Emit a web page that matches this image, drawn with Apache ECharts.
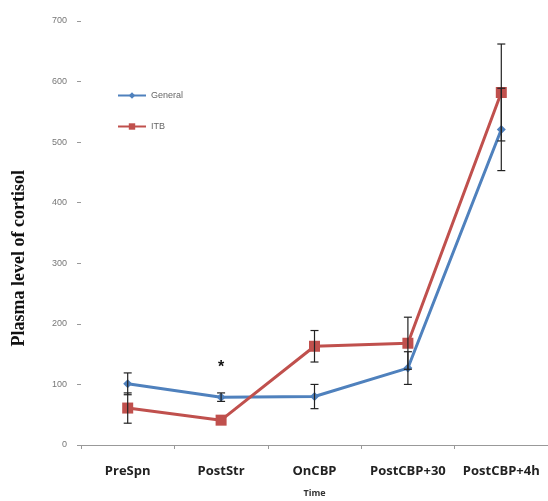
<!DOCTYPE html>
<html><head><meta charset="utf-8">
<script src="https://cdn.jsdelivr.net/npm/echarts@6/dist/echarts.min.js"></script>
<style>html,body{margin:0;padding:0;background:#fff}#c{width:548px;height:501px}</style>
</head><body><div id="c"></div>
<script>
const categories = ['PreSpn', 'PostStr', 'OnCBP', 'PostCBP+30', 'PostCBP+4h'];
const generalValues = [101, 79, 80, 127, 521];
const generalErrors = [18, 7, 20, 27, 68];
const itbValues = [61, 41, 163, 168, 582];
const itbErrors = [25, 0, 26, 43, 80];
const yTicks = { min: 0, max: 700, interval: 100 };
const annotation = { category: 'PostStr', value: 128, text: '*' };
const yTitle = 'Plasma level of cortisol';
const xTitle = 'Time';

function errData(vals, errs) {
  return vals.map((v, i) => [i, v - errs[i], v + errs[i]]);
}
function errRender(params, api) {
  const x = api.value(0), lo = api.value(1), hi = api.value(2);
  if (hi === lo) return null;
  const pLo = api.coord([x, lo]), pHi = api.coord([x, hi]);
  const w = 4;
  const st = { stroke: '#222', lineWidth: 1.2 };
  return { type: 'group', children: [
    { type: 'line', shape: { x1: pLo[0], y1: pLo[1], x2: pHi[0], y2: pHi[1] }, style: st },
    { type: 'line', shape: { x1: pLo[0] - w, y1: pLo[1], x2: pLo[0] + w, y2: pLo[1] }, style: st },
    { type: 'line', shape: { x1: pHi[0] - w, y1: pHi[1], x2: pHi[0] + w, y2: pHi[1] }, style: st }
  ]};
}

const chart = echarts.init(document.getElementById('c'));
chart.setOption({
  animation: false,
  backgroundColor: '#fff',
  grid: { left: 81, right: 0, top: 21, bottom: 56, containLabel: false, outerBoundsMode: 'none' },
  graphic: [{
    type: 'text', left: 10, top: 170,
    rotation: Math.PI / 2, originX: 0, originY: 0,
    style: { text: yTitle, fontSize: 18, fontWeight: 'bold', fill: '#111', fontFamily: 'Liberation Serif' }
  }],
  legend: {
    orient: 'vertical', left: 112, top: 86, itemGap: 22,
    itemWidth: 28, itemHeight: 8,
    textStyle: { fontSize: 9, color: '#666', fontFamily: 'Liberation Sans' },
    data: ['General', 'ITB']
  },
  xAxis: {
    type: 'category', data: categories, boundaryGap: true,
    name: xTitle, nameLocation: 'middle', nameGap: 44,
    nameTextStyle: { fontSize: 9, fontWeight: 'bold', color: '#333', fontFamily: 'Open Sans' },
    axisLine: { lineStyle: { color: '#999', width: 1 } },
    axisTick: { show: true, length: 4, interval: 0, lineStyle: { color: '#999' } },
    axisLabel: { interval: 0, hideOverlap: false, fontSize: 13, fontWeight: 'bold', color: '#222', margin: 20, fontFamily: 'Open Sans' }
  },
  yAxis: {
    type: 'value', min: yTicks.min, max: yTicks.max, interval: yTicks.interval,
    axisLine: { show: false },
    axisTick: { show: true, length: 4, lineStyle: { color: '#999' } },
    splitLine: { show: false },
    axisLabel: { fontSize: 9, color: '#777', margin: 14, fontFamily: 'Liberation Sans' }
  },
  series: [
    { name: 'General', type: 'line', data: generalValues, symbol: 'diamond', symbolSize: 9,
      lineStyle: { color: '#4F81BD', width: 3 }, itemStyle: { color: '#4F81BD' }, z: 2,
      markPoint: { symbol: 'circle', symbolSize: 1, itemStyle: { color: 'rgba(0,0,0,0)' },
        label: { show: true, formatter: annotation.text, fontSize: 16, fontWeight: 'bold', color: '#111', position: 'inside' },
        data: [{ coord: [annotation.category, annotation.value] }] } },
    { name: 'ITB', type: 'line', data: itbValues, symbol: 'rect', symbolSize: 11,
      lineStyle: { color: '#C0504D', width: 3 }, itemStyle: { color: '#C0504D' }, z: 3 },
    { type: 'custom', renderItem: errRender, data: errData(generalValues, generalErrors), z: 4, silent: true },
    { type: 'custom', renderItem: errRender, data: errData(itbValues, itbErrors), z: 4, silent: true }
  ]
});
</script></body></html>
